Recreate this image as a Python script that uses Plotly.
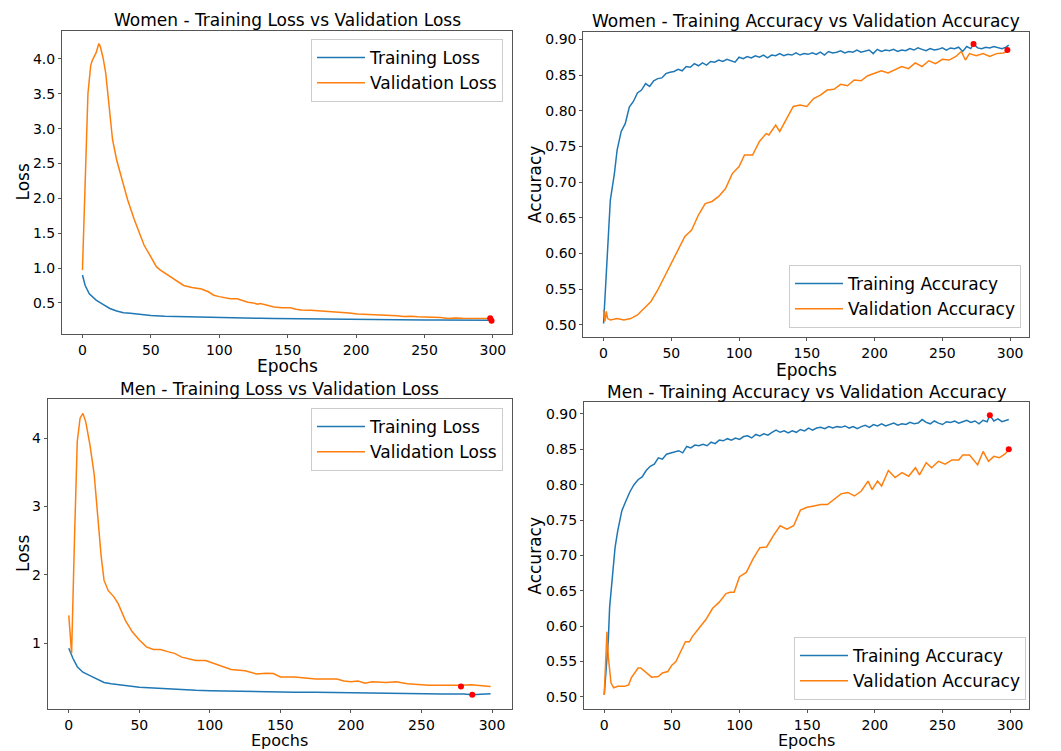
import plotly.graph_objects as go

# ---------------- Data ----------------
# Women - loss
w_tl_ep = [0, 2, 5, 10, 15, 20, 25, 30, 35, 40, 45, 50, 60, 70, 75, 80, 90, 100, 110, 120,
           130, 140, 150, 160, 170, 180, 190, 200, 210, 220, 230, 240, 250, 260, 270, 280, 290, 299]
w_tl = [0.90, 0.75, 0.63, 0.54, 0.48, 0.42, 0.385, 0.36, 0.352, 0.34, 0.335, 0.32, 0.31, 0.305, 0.30, 0.298,
        0.292, 0.285, 0.284, 0.282, 0.279, 0.278, 0.275, 0.274, 0.27, 0.27, 0.268, 0.265, 0.264, 0.262,
        0.26, 0.258, 0.255, 0.256, 0.254, 0.253, 0.252, 0.25]
w_vl_ep = [0, 2, 4, 6, 7, 10, 12, 13, 15, 17, 20, 22, 25, 29, 33, 38, 42, 45, 50, 54, 57, 61, 65, 70,
           74, 80, 87, 92, 96, 100, 104, 108, 113, 117, 121, 125, 128, 130, 135, 140, 146, 152, 156,
           160, 167, 174, 180, 184, 190, 195, 201, 210, 221, 230, 235, 240, 245, 250, 257, 262, 267,
           272, 278, 285, 292, 299]
w_vl = [0.97, 2.36, 3.5, 3.9, 3.97, 4.09, 4.22, 4.18, 4.02, 3.8, 3.25, 2.84, 2.55, 2.25, 1.98, 1.69, 1.5,
        1.33, 1.16, 1.02, 0.97, 0.92, 0.87, 0.80, 0.75, 0.72, 0.70, 0.66, 0.61, 0.59, 0.57, 0.56, 0.56, 0.53,
        0.51, 0.50, 0.48, 0.49, 0.47, 0.44, 0.43, 0.43, 0.41, 0.40, 0.395, 0.385, 0.37, 0.375, 0.36, 0.355,
        0.34, 0.335, 0.32, 0.315, 0.305, 0.31, 0.30, 0.30, 0.295, 0.29, 0.275, 0.285, 0.28, 0.275, 0.28, 0.275]

# Women - accuracy
w_ta_ep = [0, 1, 3, 5, 8, 10, 13, 16, 19, 22, 25, 28, 31, 34, 37, 40, 43, 46, 49, 52, 55, 58, 61, 64, 67,
           70, 73, 76, 79, 82, 85, 88, 91, 94, 97, 100, 103, 106, 109, 112, 115, 118, 121, 124, 127, 130,
           133, 136, 139, 142, 145, 148, 151, 154, 157, 160, 163, 166, 169, 172, 175, 178, 181, 184, 187,
           190, 193, 196, 199, 202, 205, 208, 211, 214, 217, 220, 223, 226, 229, 232, 235, 238, 241, 244,
           247, 250, 253, 256, 259, 262, 265, 268, 271, 273, 276, 279, 282, 285, 288, 291, 294, 297, 299]
w_ta = [0.502, 0.535, 0.614, 0.675, 0.712, 0.745, 0.771, 0.782, 0.805, 0.813, 0.825, 0.829, 0.838, 0.834,
        0.842, 0.845, 0.846, 0.852, 0.854, 0.855, 0.858, 0.856, 0.862, 0.861, 0.866, 0.863, 0.867, 0.864,
        0.869, 0.868, 0.871, 0.869, 0.872, 0.870, 0.868, 0.875, 0.873, 0.876, 0.874, 0.877, 0.875, 0.878,
        0.874, 0.878, 0.877, 0.880, 0.877, 0.879, 0.878, 0.881, 0.878, 0.880, 0.879, 0.881, 0.879, 0.882,
        0.878, 0.883, 0.881, 0.882, 0.884, 0.881, 0.883, 0.882, 0.885, 0.882, 0.884, 0.885, 0.880, 0.886,
        0.883, 0.885, 0.884, 0.886, 0.883, 0.885, 0.884, 0.887, 0.885, 0.888, 0.886, 0.884, 0.887, 0.885,
        0.886, 0.888, 0.885, 0.888, 0.887, 0.889, 0.883, 0.890, 0.887, 0.8935, 0.888, 0.887, 0.889, 0.888,
        0.890, 0.889, 0.887, 0.889, 0.892]
w_va_ep = [0, 1, 2, 3, 5, 10, 15, 20, 25, 30, 35, 40, 45, 50, 55, 60, 65, 70, 75, 80, 85, 90, 95, 100,
           104, 110, 115, 120, 122, 127, 130, 135, 140, 145, 150, 155, 160, 165, 170, 175, 180, 185, 190,
           195, 200, 205, 210, 215, 220, 225, 230, 235, 240, 245, 250, 255, 260, 264, 267, 270, 275, 280,
           285, 290, 295, 299]
w_va = [0.521, 0.505, 0.519, 0.509, 0.507, 0.509, 0.507, 0.509, 0.514, 0.523, 0.533, 0.549, 0.568, 0.586,
        0.607, 0.624, 0.633, 0.654, 0.670, 0.673, 0.680, 0.691, 0.712, 0.722, 0.738, 0.738, 0.757, 0.768,
        0.766, 0.780, 0.771, 0.789, 0.806, 0.808, 0.806, 0.817, 0.822, 0.829, 0.830, 0.837, 0.835, 0.843,
        0.842, 0.849, 0.852, 0.856, 0.853, 0.858, 0.862, 0.859, 0.867, 0.862, 0.870, 0.866, 0.872, 0.871,
        0.876, 0.883, 0.871, 0.880, 0.877, 0.880, 0.876, 0.880, 0.881, 0.884]

# Men - loss
m_tl_ep = [0, 3, 6, 10, 15, 20, 25, 30, 40, 50, 60, 75, 90, 100, 110, 125, 140, 150, 160, 175, 190,
           200, 215, 230, 250, 265, 280, 286, 292, 299]
m_tl = [0.93, 0.78, 0.66, 0.58, 0.53, 0.48, 0.43, 0.41, 0.385, 0.36, 0.35, 0.33, 0.315, 0.31, 0.305, 0.30,
        0.295, 0.29, 0.288, 0.285, 0.28, 0.275, 0.272, 0.27, 0.265, 0.262, 0.26, 0.25, 0.258, 0.265]
m_vl_ep = [0, 2, 4, 6, 8, 10, 12, 15, 18, 20, 23, 25, 28, 32, 35, 40, 45, 50, 55, 60, 65, 70, 75, 80,
           90, 97, 105, 115, 125, 133, 140, 145, 150, 160, 175, 190, 195, 200, 205, 210, 215, 225, 232,
           240, 255, 270, 278, 285, 292, 299]
m_vl = [1.41, 0.855, 2.5, 3.95, 4.29, 4.36, 4.24, 3.9, 3.47, 2.98, 2.26, 1.92, 1.77, 1.68, 1.58, 1.34,
        1.17, 1.05, 0.95, 0.91, 0.91, 0.88, 0.855, 0.80, 0.75, 0.75, 0.69, 0.62, 0.60, 0.555, 0.565, 0.56,
        0.51, 0.51, 0.48, 0.48, 0.45, 0.44, 0.45, 0.42, 0.44, 0.43, 0.44, 0.41, 0.39, 0.385, 0.39, 0.395,
        0.385, 0.37]

# Men - accuracy
m_ta_ep = [0, 2, 3, 4, 6, 8, 10, 13, 16, 19, 22, 25, 28, 31, 34, 37, 40, 43, 46, 49, 52, 55, 58, 61, 64,
           67, 70, 73, 76, 79, 82, 85, 88, 91, 94, 97, 100, 103, 106, 109, 112, 115, 118, 121, 124, 127,
           130, 133, 136, 139, 142, 145, 148, 151, 154, 157, 160, 163, 166, 169, 172, 175, 178, 181, 184,
           187, 190, 193, 196, 199, 202, 205, 208, 211, 214, 217, 220, 223, 226, 229, 232, 235, 238, 241,
           244, 247, 250, 253, 256, 259, 262, 265, 268, 271, 274, 277, 280, 283, 285, 288, 291, 294, 297, 299]
m_ta = [0.503, 0.552, 0.58, 0.627, 0.674, 0.711, 0.735, 0.763, 0.777, 0.790, 0.800, 0.807, 0.811, 0.820,
        0.826, 0.829, 0.838, 0.836, 0.843, 0.845, 0.846, 0.848, 0.845, 0.854, 0.852, 0.856, 0.855, 0.857,
        0.855, 0.860, 0.858, 0.863, 0.862, 0.865, 0.863, 0.866, 0.864, 0.868, 0.869, 0.866, 0.871, 0.869,
        0.872, 0.870, 0.874, 0.877, 0.874, 0.876, 0.873, 0.876, 0.874, 0.878, 0.876, 0.880, 0.877, 0.880,
        0.881, 0.879, 0.882, 0.880, 0.882, 0.881, 0.883, 0.880, 0.882, 0.879, 0.882, 0.884, 0.881, 0.885,
        0.883, 0.886, 0.883, 0.885, 0.887, 0.884, 0.886, 0.885, 0.888, 0.886, 0.887, 0.892, 0.888, 0.886,
        0.890, 0.887, 0.885, 0.889, 0.888, 0.890, 0.887, 0.889, 0.891, 0.888, 0.890, 0.886, 0.891, 0.889,
        0.898, 0.890, 0.893, 0.889, 0.891, 0.892]
m_va_ep = [0, 2, 3, 5, 7, 10, 15, 18, 20, 25, 27, 30, 35, 40, 43, 47, 50, 53, 57, 60, 63, 65, 70, 75,
           80, 85, 90, 93, 96, 100, 105, 110, 115, 120, 125, 130, 135, 140, 145, 150, 155, 160, 165, 170,
           175, 180, 185, 190, 195, 198, 202, 205, 210, 215, 220, 225, 230, 233, 238, 242, 247, 252, 257,
           262, 265, 270, 273, 276, 280, 284, 288, 292, 296, 299]
m_va = [0.503, 0.592, 0.557, 0.520, 0.513, 0.515, 0.515, 0.517, 0.527, 0.541, 0.541, 0.536, 0.528, 0.529,
        0.534, 0.536, 0.545, 0.550, 0.566, 0.578, 0.578, 0.585, 0.597, 0.609, 0.625, 0.634, 0.646, 0.648,
        0.648, 0.670, 0.676, 0.695, 0.711, 0.712, 0.728, 0.742, 0.737, 0.742, 0.764, 0.768, 0.770, 0.772,
        0.772, 0.779, 0.787, 0.789, 0.784, 0.791, 0.805, 0.793, 0.805, 0.798, 0.820, 0.810, 0.817, 0.812,
        0.824, 0.814, 0.831, 0.824, 0.833, 0.829, 0.835, 0.835, 0.842, 0.842, 0.835, 0.828, 0.847, 0.833,
        0.840, 0.838, 0.843, 0.849]

# Best points (red markers)
w_loss_best_ep = [298, 299]
w_loss_best = [0.28, 0.245]
w_acc_best_ep = [273, 298]
w_acc_best = [0.8935, 0.885]
m_loss_best_ep = [278, 286]
m_loss_best = [0.37, 0.25]
m_acc_best_ep = [285, 299]
m_acc_best = [0.898, 0.850]

titles = ["Women - Training Loss vs Validation Loss",
          "Women - Training Accuracy vs Validation Accuracy",
          "Men - Training Loss vs Validation Loss",
          "Men - Training Accuracy vs Validation Accuracy"]

# ---------------- Figure ----------------
BLUE = "#1f77b4"
ORANGE = "#ff7f0e"
FONT = "DejaVu Sans"
W, H = 1061, 751

fig = go.Figure()

panels = [
    ("", w_tl_ep, w_tl, w_vl_ep, w_vl, w_loss_best_ep, w_loss_best, ("Training Loss", "Validation Loss"), "legend"),
    ("2", w_ta_ep, w_ta, w_va_ep, w_va, w_acc_best_ep, w_acc_best, ("Training Accuracy", "Validation Accuracy"), "legend2"),
    ("3", m_tl_ep, m_tl, m_vl_ep, m_vl, m_loss_best_ep, m_loss_best, ("Training Loss", "Validation Loss"), "legend3"),
    ("4", m_ta_ep, m_ta, m_va_ep, m_va, m_acc_best_ep, m_acc_best, ("Training Accuracy", "Validation Accuracy"), "legend4"),
]

for suf, tep, tv, vep, vv, bep, bv, names, leg in panels:
    xa, ya = "x" + suf, "y" + suf
    fig.add_trace(go.Scatter(x=tep, y=tv, mode="lines", name=names[0], line=dict(color=BLUE, width=1.5),
                             xaxis=xa, yaxis=ya, legend=leg))
    fig.add_trace(go.Scatter(x=vep, y=vv, mode="lines", name=names[1], line=dict(color=ORANGE, width=1.5),
                             xaxis=xa, yaxis=ya, legend=leg))
    fig.add_trace(go.Scatter(x=bep, y=bv, mode="markers", marker=dict(color="red", size=6),
                             showlegend=False, xaxis=xa, yaxis=ya))

# plot-area pixel boxes: (left, right, top, bottom)
boxes = [(62, 512, 31, 334), (583.3, 1029, 31.7, 336.7), (47.7, 511.7, 399, 709), (584, 1029, 402.3, 709)]
yranges = [[0.054, 4.40], [0.4836, 0.9107], [0.042, 4.57], [0.483, 0.9164]]
ytickvals = [[0.5, 1.0, 1.5, 2.0, 2.5, 3.0, 3.5, 4.0], [0.50, 0.55, 0.60, 0.65, 0.70, 0.75, 0.80, 0.85, 0.90],
             [1, 2, 3, 4], [0.50, 0.55, 0.60, 0.65, 0.70, 0.75, 0.80, 0.85, 0.90]]
ytickfmt = [".1f", ".2f", "d", ".2f"]
xticks = [0, 50, 100, 150, 200, 250, 300]

axis_common = dict(showline=True, mirror=True, linecolor="#555555", linewidth=1, ticks="outside",
                   ticklen=3, tickcolor="#555555", showgrid=False, zeroline=False,
                   tickfont=dict(family=FONT, size=14, color="black"))

layout = dict(width=W, height=H, margin=dict(l=0, r=0, t=0, b=0), paper_bgcolor="white",
              plot_bgcolor="white", font=dict(family=FONT, color="black"), showlegend=True)
for i, (l, r, t, b) in enumerate(boxes):
    suf = "" if i == 0 else str(i + 1)
    layout["xaxis" + suf] = dict(domain=[l / W, r / W], range=[-14.95, 313.95], tickvals=xticks,
                                 anchor="y" + suf, **axis_common)
    layout["yaxis" + suf] = dict(domain=[1 - b / H, 1 - t / H], range=yranges[i], tickvals=ytickvals[i],
                                 tickformat=ytickfmt[i], anchor="x" + suf, **axis_common)

leg_common = dict(bgcolor="rgba(255,255,255,0.8)", bordercolor="#cccccc", borderwidth=1,
                  font=dict(family=FONT, size=17, color="black"), xanchor="right", itemwidth=48)
layout["legend"] = dict(x=503 / W, y=1 - 39 / H, yanchor="top", **leg_common)
layout["legend2"] = dict(x=1021 / W, y=1 - 328 / H, yanchor="bottom", **leg_common)
layout["legend3"] = dict(x=503 / W, y=1 - 408 / H, yanchor="top", **leg_common)
layout["legend4"] = dict(x=1026 / W, y=1 - 700 / H, yanchor="bottom", **leg_common)

anns = []
title_y = [20, 21, 389, 392]
xlabel_y = [366, 370, 740, 740]
xlabel_size = [17, 17, 16, 16]
ylabel_x = [23, 535, 23, 535]
ylabels = ["Loss", "Accuracy", "Loss", "Accuracy"]
for i, (l, r, t, b) in enumerate(boxes):
    cx = (l + r) / 2 / W
    anns.append(dict(text=titles[i], x=cx, y=1 - title_y[i] / H, xref="paper", yref="paper",
                     showarrow=False, xanchor="center", yanchor="middle",
                     font=dict(family=FONT, size=17, color="black")))
    anns.append(dict(text="Epochs", x=cx, y=1 - xlabel_y[i] / H, xref="paper", yref="paper",
                     showarrow=False, xanchor="center", yanchor="middle",
                     font=dict(family=FONT, size=xlabel_size[i], color="black")))
    anns.append(dict(text=ylabels[i], x=ylabel_x[i] / W, y=1 - (t + b) / 2 / H, xref="paper", yref="paper",
                     showarrow=False, xanchor="center", yanchor="middle", textangle=-90,
                     font=dict(family=FONT, size=17, color="black")))
layout["annotations"] = anns

fig.update_layout(**layout)
fig.write_html("out.html", config={"displayModeBar": False},
               post_script="document.body.style.margin='0';document.body.style.overflow='hidden';")
